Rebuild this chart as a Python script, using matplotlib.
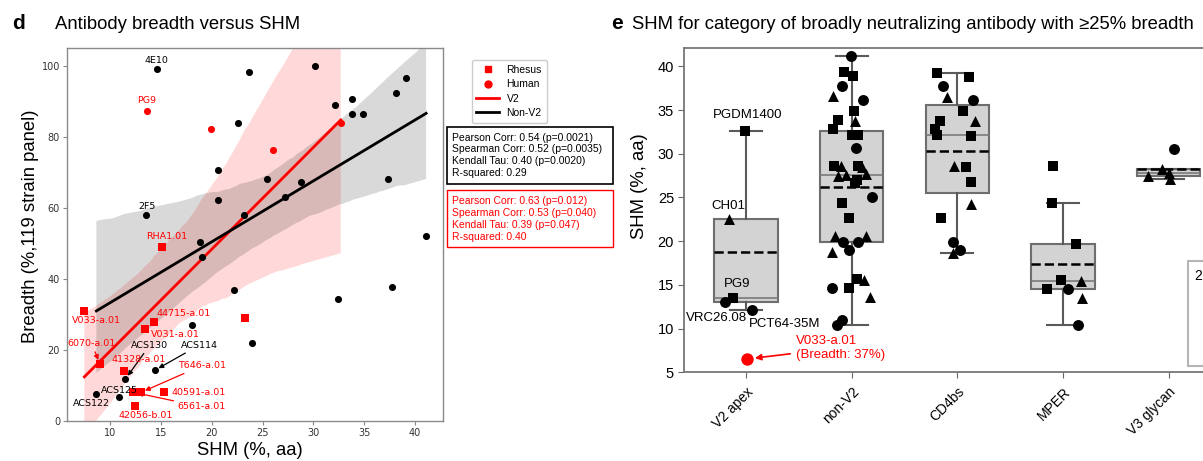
import numpy as np
import matplotlib
matplotlib.use("Agg")
import matplotlib.pyplot as plt
import seaborn as sns
from matplotlib.lines import Line2D
from matplotlib.patches import Rectangle

# ---------------- Panel d data ----------------
nonv2_shm = [14.6, 23.7, 30.2, 32.1, 33.8, 33.8, 34.9, 38.1, 39.1, 22.6, 20.6, 25.4, 28.8, 27.2, 20.6,
             13.5, 23.2, 37.3, 18.8, 19.0, 41.1, 22.2, 37.7, 32.4, 18.1, 24.0, 14.4, 11.5, 8.65, 10.9]
nonv2_breadth = [99.1, 98.2, 99.9, 88.9, 90.6, 86.5, 86.5, 92.3, 96.5, 83.9, 70.5, 68.0, 67.2, 62.9, 62.2,
                 57.9, 57.9, 68.0, 50.3, 46.2, 52.0, 36.9, 37.7, 34.4, 26.9, 21.8, 14.2, 11.7, 7.5, 6.7]
nonv2_names = ['4E10', '', '', '', '', '', '', '', '', '', '', '', '', '', '',
               '2F5', '', '', '', '', '', '', '', '', '', '', 'ACS114', 'ACS130', 'ACS122', 'ACS125']

v2_human_shm = [13.6, 19.9, 26.0, 32.7]
v2_human_breadth = [87.3, 82.3, 76.3, 83.9]
v2_human_names = ['PG9', '', '', '']

rhesus_shm = [15.1, 7.47, 23.3, 14.3, 13.45, 9.0, 11.4, 13.05, 12.3, 15.3, 12.46]
rhesus_breadth = [48.9, 31.0, 29.0, 27.9, 25.9, 16.0, 13.9, 8.0, 8.0, 8.0, 4.1]
rhesus_names = ['RHA1.01', 'V033-a.01', '', '44715-a.01', 'V031-a.01', '6070-a.01', '41328-a.01',
                'T646-a.01', '6561-a.01', '40591-a.01', '42056-b.01']

stats_nonv2 = ["Pearson Corr: 0.54 (p=0.0021)", "Spearman Corr: 0.52 (p=0.0035)",
               "Kendall Tau: 0.40 (p=0.0020)", "R-squared: 0.29"]
stats_v2 = ["Pearson Corr: 0.63 (p=0.012)", "Spearman Corr: 0.53 (p=0.040)",
            "Kendall Tau: 0.39 (p=0.047)", "R-squared: 0.40"]

# ---------------- Panel e data ----------------
categories = ['V2 apex', 'non-V2', 'CD4bs', 'MPER', 'V3 glycan']
e_values = [
    [32.65, 22.55, 13.55, 13.0, 12.1],
    [41.2, 39.3, 38.9, 37.8, 36.6, 36.2, 34.85, 33.8, 33.9, 32.8, 32.1, 32.1, 30.65, 28.55, 28.6,
     28.55, 28.5, 27.5, 27.6, 27.0, 27.7, 26.7, 25.0, 24.35, 22.6, 20.6, 20.6, 19.96, 19.85, 19.0,
     18.8, 15.65, 15.6, 14.6, 14.6, 13.6, 10.4, 11.0],
    [39.2, 38.8, 37.7, 36.5, 36.2, 34.9, 33.8, 33.8, 32.8, 32.1, 32.0, 28.6, 28.5, 26.8, 24.3, 22.6,
     19.85, 19.0, 18.7],
    [28.6, 24.35, 19.7, 15.57, 15.5, 14.5, 14.5, 13.5, 10.42],
    [30.5, 27.5, 28.25, 27.8, 27.1],
]
e_markers = [
    ['s', '^', 's', 'o', 'o'],
    ['o', 's', 's', 'o', '^', 'o', 's', '^', 's', 's', 's', 's', 'o', 's', '^',
     's', '^', '^', '^', 's', '^', 's', 'o', 's', 's', '^', '^', 'o', 'o', 'o',
     '^', 's', '^', 'o', 's', '^', 'o', 'o'],
    ['s', 's', 'o', '^', 'o', 's', '^', 's', 's', 's', 's', '^', 's', 's', '^', 's', 'o', 'o', '^'],
    ['s', 's', 's', 's', '^', 's', 'o', '^', 'o'],
    ['o', '^', '^', '^', '^'],
]
e_jitter = [
    [-0.01, -0.16, -0.12, -0.20, 0.06],
    [-0.01, -0.07, 0.01, -0.09, -0.18, 0.11, 0.02, 0.03, -0.13, -0.18, 0.00, 0.06, 0.04, -0.17, -0.10,
     0.06, 0.10, -0.13, -0.05, 0.05, 0.14, 0.03, 0.19, -0.09, -0.03, -0.16, 0.14, -0.08, 0.06, -0.03,
     -0.19, 0.05, 0.12, -0.19, -0.03, 0.17, -0.14, -0.09],
    [-0.19, 0.11, -0.14, -0.10, 0.15, 0.05, 0.17, -0.16, -0.21, -0.19, 0.13, -0.03, 0.08, 0.13, 0.13,
     -0.15, -0.04, 0.03, -0.04],
    [-0.09, -0.10, 0.12, -0.02, 0.17, -0.15, 0.05, 0.18, 0.14],
    [0.05, -0.19, -0.06, 0.00, 0.01],
]
e_names_v2apex = ['PGDM1400', 'CH01', 'PG9', 'VRC26.08', 'PCT64-35M']
outlier_shm = 6.52   # V033-a.01, V2 apex

# ---------------- Figure ----------------
W, H = 1203, 461
fig = plt.figure(figsize=(W / 100, H / 100), dpi=100)
SANS = ['Liberation Sans', 'DejaVu Sans']


def fx(px):
    return px / W


def fy(py):
    return 1 - py / H


# ===== Panel d =====
axd = fig.add_axes([fx(67), fy(420.7), 376 / W, 372.7 / H])
sns.regplot(x=np.array(v2_human_shm + rhesus_shm), y=np.array(v2_human_breadth + rhesus_breadth),
            ax=axd, scatter=False, color='red', ci=95, seed=3, truncate=True,
            line_kws=dict(lw=2.0, zorder=3))
sns.regplot(x=np.array(nonv2_shm), y=np.array(nonv2_breadth), ax=axd, scatter=False,
            color='black', ci=95, seed=3, truncate=True, line_kws=dict(lw=2.0, zorder=3))

axd.scatter(nonv2_shm, nonv2_breadth, s=26, marker='o', color='black', zorder=4, linewidths=0)
axd.scatter(v2_human_shm, v2_human_breadth, s=26, marker='o', color='red', zorder=4, linewidths=0)
axd.scatter(rhesus_shm, rhesus_breadth, s=26, marker='s', color='red', zorder=4, linewidths=0)

axd.set_xlim(5.76, 42.76)
axd.set_ylim(0, 105)
axd.set_xticks([10, 15, 20, 25, 30, 35, 40])
axd.set_yticks([0, 20, 40, 60, 80, 100])
axd.tick_params(labelsize=7, length=3, color='#888888', labelcolor='#333333', pad=2)
for sp in axd.spines.values():
    sp.set_color('#8a8a8a')
    sp.set_linewidth(1.0)
axd.set_xlabel('')
axd.set_ylabel('')


def lookup(name):
    for names, xs, ys in ((nonv2_names, nonv2_shm, nonv2_breadth),
                          (v2_human_names, v2_human_shm, v2_human_breadth),
                          (rhesus_names, rhesus_shm, rhesus_breadth)):
        if name in names:
            i = names.index(name)
            return xs[i], ys[i]


# (name, text position (data coords), colour, arrow)
d_labels = [
    ('4E10', (14.6, 101.4), 'black', False),
    ('PG9', (13.62, 90.2), 'red', False),
    ('2F5', (13.62, 60.4), 'black', False),
    ('RHA1.01', (15.55, 51.9), 'red', False),
    ('V033-a.01', (8.62, 28.2), 'red', False),
    ('44715-a.01', (17.26, 30.3), 'red', False),
    ('V031-a.01', (16.39, 24.3), 'red', False),
    ('6070-a.01', (8.18, 21.8), 'red', True),
    ('ACS130', (13.91, 21.3), 'black', True),
    ('ACS114', (18.79, 21.3), 'black', True),
    ('41328-a.01', (12.83, 17.3), 'red', False),
    ('T646-a.01', (19.03, 15.5), 'red', True),
    ('ACS125', (10.94, 8.5), 'black', False),
    ('ACS122', (8.2, 4.9), 'black', False),
    ('40591-a.01', (18.69, 8.0), 'red', False),
    ('6561-a.01', (19.03, 3.9), 'red', True),
    ('42056-b.01', (13.48, 1.6), 'red', False),
]
for name, tpos, col, arrow in d_labels:
    px, py = lookup(name)
    if arrow:
        axd.annotate(name, xy=(px, py), xytext=tpos, ha='center', va='center', fontsize=6.8,
                     color=col, zorder=6,
                     arrowprops=dict(arrowstyle='-|>', color=col, lw=0.9, mutation_scale=7,
                                     shrinkA=1, shrinkB=3))
    else:
        axd.text(tpos[0], tpos[1], name, ha='center', va='center', fontsize=6.8, color=col, zorder=6)

fig.text(fx(31), fy(226), 'Breadth (%,119 strain panel)', rotation=90, ha='center', va='center',
         fontsize=13.3, family=SANS)
fig.text(fx(250), fy(450), 'SHM (%, aa)', ha='center', va='center', fontsize=13.3, family=SANS)

# legend for panel d
handles = [Line2D([], [], marker='s', color='red', ls='none', ms=5),
           Line2D([], [], marker='o', color='red', ls='none', ms=5),
           Line2D([], [], color='red', lw=2),
           Line2D([], [], color='black', lw=2)]
fig.legend(handles, ['Rhesus', 'Human', 'V2', 'Non-V2'], loc='upper left',
           bbox_to_anchor=(fx(466.5), fy(55)), fontsize=7.5, prop=dict(family=SANS, size=7.5),
           handlelength=2.2, handletextpad=0.7, labelspacing=0.42, borderpad=0.45,
           frameon=True, edgecolor='#cccccc', framealpha=1)

# stats boxes
fig.patches.append(Rectangle((fx(447), fy(184)), (613 - 447) / W, (184 - 127) / H,
                             transform=fig.transFigure, fill=False, edgecolor='black', lw=1.2))
fig.patches.append(Rectangle((fx(447), fy(247)), (613 - 447) / W, (247 - 190) / H,
                             transform=fig.transFigure, fill=False, edgecolor='red', lw=1.0))
for i, line in enumerate(stats_nonv2):
    fig.text(fx(452.5), fy(137.5 + 12 * i), line, ha='left', va='center', fontsize=7.5,
             family=SANS, color='black')
for i, line in enumerate(stats_v2):
    fig.text(fx(452.5), fy(200.5 + 12 * i), line, ha='left', va='center', fontsize=7.5,
             family=SANS, color='red')

# titles
fig.text(fx(12), fy(29), 'd', fontsize=15, fontweight='bold', family=SANS, va='baseline')
fig.text(fx(55), fy(29), 'Antibody breadth versus SHM', fontsize=13.3, family=SANS, va='baseline')

# ===== Panel e =====
xr = (-0.59, 6.59)
unit = 105.6
axe = fig.add_axes([fx(683.8), fy(372.3), (xr[1] - xr[0]) * unit / W, 324.3 / H])
pos = np.arange(len(categories))
axe.boxplot(e_values, positions=pos, widths=0.6, patch_artist=True, showfliers=False,
            showmeans=True, meanline=True, capwidths=0.3,
            boxprops=dict(facecolor='#d3d3d3', edgecolor='#6e6e6e', linewidth=1.5),
            medianprops=dict(color='#7a7a7a', linewidth=1.2),
            meanprops=dict(color='black', linestyle='--', linewidth=1.8),
            whiskerprops=dict(color='#5a5a5a', linewidth=1.5),
            capprops=dict(color='#5a5a5a', linewidth=1.5))
msize = {'s': 52, 'o': 62, '^': 62}
for i, (vals, mks, jit) in enumerate(zip(e_values, e_markers, e_jitter)):
    for v, m, j in zip(vals, mks, jit):
        axe.scatter(pos[i] + j, v, marker=m, s=msize[m], color='black', zorder=5, linewidths=0)
axe.scatter(pos[0] + 0.005, outlier_shm, marker='o', s=80, color='red', zorder=5, linewidths=0)

axe.set_xlim(*xr)
axe.set_ylim(5, 42.1)
axe.set_yticks([5, 10, 15, 20, 25, 30, 35, 40])
axe.set_xticks(pos)
axe.set_xticklabels(categories, rotation=45, ha='right', rotation_mode='anchor',
                    fontsize=10, family=SANS)
for lab in axe.get_yticklabels():
    lab.set_family(SANS)
axe.tick_params(axis='y', labelsize=10.5, length=4, color='#666666', pad=3)
axe.tick_params(axis='x', length=4, color='#666666', pad=5)
for sp in axe.spines.values():
    sp.set_color('#777777')
    sp.set_linewidth(1.3)

# annotations panel e
e_text_pos = {'PGDM1400': ((0.017, 34.4), 'center'), 'CH01': ((-0.172, 24.0), 'center'),
              'PG9': ((-0.087, 15.1), 'center'), 'VRC26.08': ((0.005, 11.2), 'right'),
              'PCT64-35M': ((0.03, 10.55), 'left')}
for name in e_names_v2apex:
    (tx, ty), ha = e_text_pos[name]
    axe.text(tx, ty, name, ha=ha, va='center', fontsize=9.5, family=SANS, zorder=6)
axe.annotate('V033-a.01\n(Breadth: 37%)', xy=(pos[0] + 0.005, outlier_shm), xytext=(0.47, 7.8),
             ha='left', va='center', fontsize=9.5, family=SANS, color='red', linespacing=1.2,
             arrowprops=dict(arrowstyle='-|>', color='red', lw=1.2, mutation_scale=9,
                             shrinkA=2, shrinkB=6))

fig.text(fx(640), fy(186.5), 'SHM (%, aa)', rotation=90, ha='center', va='center',
         fontsize=13.3, family=SANS)
fig.text(fx(611), fy(29), 'e', fontsize=15, fontweight='bold', family=SANS, va='baseline')
fig.text(fx(632), fy(29), 'SHM for category of broadly neutralizing antibody with \u226525% breadth',
         fontsize=13.3, family=SANS, va='baseline')

# partially visible legend box at the right edge
fig.patches.append(Rectangle((fx(1188), fy(366)), 40 / W, (366 - 261) / H,
                             transform=fig.transFigure, facecolor='white', edgecolor='#b5b5b5',
                             lw=1.5, zorder=10))
fig.text(fx(1194), fy(276), '2', fontsize=10, family=SANS, va='center', zorder=11)

fig.savefig('out.png', dpi=100)
